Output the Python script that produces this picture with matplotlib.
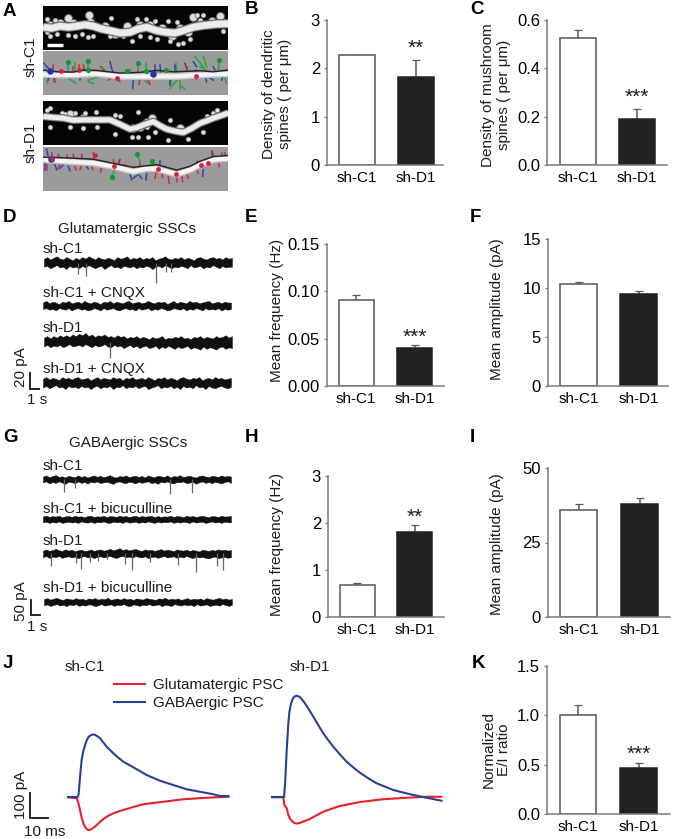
import numpy as np
import matplotlib
matplotlib.use('Agg')
import matplotlib.pyplot as plt

plt.rcParams['font.family'] = ['Liberation Sans', 'DejaVu Sans']
plt.rcParams['text.color'] = '#1c1c1c'

W, H = 673, 839
TXT = 11

# bar values, panel -> (sh-C1, sh-D1)
groups = ['sh-C1', 'sh-D1']
b_vals, b_err = [2.27, 1.83], [0.012, 0.34]
c_vals, c_err = [0.525, 0.19], [0.035, 0.04]
e_vals, e_err = [0.091, 0.04], [0.005, 0.003]
f_vals, f_err = [10.4, 9.4], [0.25, 0.3]
h_vals, h_err = [0.69, 1.8], [0.03, 0.15]
i_vals, i_err = [36, 38], [2, 2]
k_vals, k_err = [1.0, 0.47], [0.1, 0.05]

b_ticks = [0, 1, 2, 3]
c_ticks = [0.0, 0.2, 0.4, 0.6]
e_ticks = [0.00, 0.05, 0.10, 0.15]
f_ticks = [0, 5, 10, 15]
h_ticks = [0, 1, 2, 3]
i_ticks = [0, 25, 50]
k_ticks = [0.0, 0.5, 1.0, 1.5]

# PSC averages (ms, pA)
c1_gaba_t = [0, 6, 6.4, 6.7, 7.4, 8.3, 9.2, 10.2, 11.1, 12, 12.9, 13.9, 14.8, 15.7, 17, 18.5, 20.4, 22.2, 25.9, 28.7, 31.5, 37, 44.4, 51.8, 59.2, 66.6, 74, 81.4, 85.1, 89.8]
c1_gaba_i = [0, 0, 5, 15, 81, 148, 183, 208, 226, 239, 245, 249, 250, 249, 243, 235, 218, 201, 175, 157, 141, 119, 88, 65, 48, 31, 21, 11, 4, 4]
c1_glu_t = [0, 5.6, 6.5, 7.4, 8.3, 9.3, 10, 10.7, 11.4, 12, 13, 13.9, 15.2, 16.7, 18.5, 20.4, 22.9, 25.9, 29.6, 33.3, 37.9, 42.6, 53.7, 64.8, 77.7, 89.8]
c1_glu_i = [-1, -5, -25, -52, -82, -105, -117, -125, -130, -132, -131, -128, -121, -112, -100, -88, -76, -65, -56, -48, -38, -29, -19, -9, -3, 1]
d1_gaba_t = [0, 7.4, 8, 8.9, 9.8, 10.4, 11.1, 11.8, 12.6, 13.5, 14.4, 15.3, 16.3, 17.6, 19, 21.3, 23.7, 26.4, 29.2, 32, 34.8, 38.5, 42.2, 45.9, 49.6, 54.2, 58.8, 68.1, 77.4, 86.6, 94.9]
d1_gaba_i = [0, 0, 55, 188, 295, 340, 368, 385, 397, 403, 405, 403, 399, 388, 375, 349, 321, 288, 255, 227, 201, 170, 141, 118, 97, 75, 55, 28, 11, -3, -15]
d1_glu_t = [0, 7, 7.6, 8.9, 9.8, 10.7, 11.7, 12.5, 13.5, 14.8, 16.3, 18.9, 21.8, 25.5, 29.2, 33.8, 38.5, 49.6, 62.5, 75.5, 86.6, 94.9]
d1_glu_i = [-1, -1, -32, -45, -72, -86, -95, -101, -105, -106, -103, -96, -88, -73, -59, -47, -36, -20, -9, -3, 1, 1]

# SSC recordings: noise envelope (pA) and events (s, pA)
d1_up = [5, 7, 4, 6, 8, 5, 4, 7, 5, 3, 6, 4, 7, 5, 8, 6, 4, 7, 5, 4, 6, 5, 3, 7, 5, 6, 8, 4, 6, 5,
         7, 4, 6, 5, 7, 3, 5, 6, 8, 5, 4, 6, 5, 7, 4, 6, 5, 3, 6, 7, 5, 4, 6, 7, 5, 6, 4, 7, 5, 6]
d1_lo = [-5, -4, -7, -5, -3, -6, -5, -8, -4, -6, -5, -7, -4, -6, -3, -5, -7, -5, -4, -8, -5, -3, -6, -5, -7, -4, -5, -6, -4, -7,
         -5, -6, -4, -5, -8, -5, -4, -6, -3, -5, -7, -5, -6, -4, -5, -7, -3, -6, -5, -4, -7, -5, -6, -3, -5, -7, -4, -6, -5, -5]
d1_ev_t, d1_ev_a = [4.0, 4.9, 13.1, 14.3, 14.8], [14, 16, 25, 12, 11]
d2_up = [4, 6, 3, 5, 4, 2, 5, 4, 6, 3, 4, 5, 3, 6, 4, 3, 5, 4, 2, 5, 4, 6, 3, 5, 4, 3, 5, 6, 3, 4,
         5, 3, 4, 6, 4, 3, 5, 4, 5, 2, 4, 6, 3, 5, 4, 3, 6, 4, 5, 3, 4, 5, 6, 3, 4, 5, 3, 5, 4, 4]
d2_lo = [-4, -3, -5, -4, -6, -3, -4, -5, -3, -6, -4, -3, -5, -4, -6, -5, -3, -4, -6, -3, -5, -4, -3, -5, -6, -4, -3, -5, -4, -6,
         -3, -5, -4, -3, -6, -4, -5, -3, -4, -6, -5, -3, -4, -5, -3, -6, -4, -5, -3, -4, -6, -3, -5, -4, -5, -3, -6, -4, -5, -4]
d3_up = [5, 7, 4, 7, 5, 8, 6, 8, 6, 9, 7, 10, 8, 11, 7, 9, 6, 8, 7, 9, 6, 7, 5, 8, 6, 7, 4, 6, 5, 7,
         4, 6, 5, 3, 6, 4, 5, 7, 3, 5, 4, 6, 5, 7, 4, 5, 3, 6, 5, 7, 4, 6, 5, 4, 7, 5, 6, 8, 5, 7]
d3_lo = [-6, -4, -7, -5, -6, -4, -7, -5, -3, -6, -5, -4, -6, -3, -5, -7, -4, -6, -5, -3, -6, -7, -4, -6, -5, -8, -6, -4, -7, -5,
         -8, -6, -5, -8, -7, -5, -9, -6, -8, -5, -7, -9, -6, -8, -7, -5, -9, -7, -8, -10, -6, -9, -7, -8, -10, -7, -6, -9, -7, -8]
d3_ev_t, d3_ev_a = [7.7], [21]
d4_up = [5, 7, 4, 6, 5, 3, 7, 5, 6, 4, 6, 7, 4, 5, 6, 3, 5, 7, 4, 6, 5, 4, 7, 5, 6, 3, 6, 5, 7, 4,
         5, 6, 4, 7, 5, 3, 6, 5, 7, 4, 6, 5, 3, 6, 7, 5, 4, 6, 5, 7, 3, 5, 6, 4, 7, 5, 6, 4, 5, 6]
d4_lo = [-6, -4, -7, -5, -3, -6, -5, -8, -4, -6, -5, -7, -4, -6, -5, -8, -5, -4, -7, -5, -6, -4, -8, -5, -6, -3, -7, -5, -6, -4,
         -7, -5, -4, -8, -6, -5, -3, -7, -5, -6, -4, -7, -5, -8, -4, -6, -5, -7, -3, -6, -5, -8, -4, -6, -7, -5, -4, -6, -7, -5]

g1_up = [9, 13, 7, 11, 14, 8, 10, 6, 12, 9, 7, 13, 8, 11, 6, 10, 13, 8, 12, 7, 10, 14, 8, 6, 11, 9, 13, 7, 10, 12,
         8, 11, 6, 13, 9, 7, 12, 10, 8, 13, 6, 11, 9, 14, 7, 10, 12, 8, 6, 11, 13, 9, 7, 12, 10, 8, 13, 9, 11, 9]
g1_lo = [-10, -7, -14, -9, -12, -7, -11, -15, -8, -10, -13, -7, -12, -9, -14, -8, -11, -7, -13, -10, -8, -12, -15, -9, -7, -11, -13, -8, -10, -14,
         -8, -12, -9, -7, -13, -10, -15, -8, -11, -7, -12, -14, -9, -10, -7, -13, -11, -8, -15, -10, -7, -12, -9, -13, -8, -11, -14, -9, -7, -12]
g1_ev_t, g1_ev_a = [2.5, 3.7, 14.9, 17.4], [43, 30, 50, 47]
g2_up = [10, 12, 8, 11, 9, 12, 7, 10, 11, 8, 12, 9, 10, 7, 11, 12, 8, 10, 9, 12, 7, 11, 10, 8, 12, 9, 11, 7, 10, 12,
         8, 11, 9, 10, 12, 7, 11, 8, 10, 9, 12, 8, 11, 10, 7, 12, 9, 11, 8, 10, 12, 9, 7, 11, 10, 8, 12, 9, 10, 11]
g2_lo = [-10, -8, -12, -9, -11, -7, -12, -10, -8, -11, -9, -12, -7, -10, -11, -8, -12, -9, -10, -7, -11, -12, -8, -10, -9, -12, -7, -11, -10, -8,
         -12, -9, -11, -7, -10, -12, -8, -11, -9, -10, -7, -12, -9, -11, -8, -10, -12, -7, -11, -9, -8, -12, -10, -7, -11, -9, -12, -8, -10, -10]
g3_up = [9, 13, 8, 11, 15, 10, 8, 13, 9, 12, 7, 10, 12, 8, 9, 13, 8, 11, 13, 9, 11, 15, 10, 13, 17, 11, 14, 10, 12, 15,
         10, 8, 13, 10, 12, 8, 11, 14, 9, 12, 10, 7, 13, 10, 9, 12, 8, 11, 9, 6, 12, 10, 8, 11, 9, 13, 10, 12, 9, 11]
g3_lo = [-13, -9, -16, -11, -13, -9, -15, -12, -10, -14, -11, -17, -12, -9, -14, -11, -16, -12, -10, -14, -11, -9, -13, -16, -11, -9, -13, -11, -15, -9,
         -12, -14, -10, -16, -13, -11, -15, -12, -9, -14, -12, -10, -15, -11, -14, -9, -13, -16, -11, -14, -12, -15, -17, -13, -11, -16, -14, -12, -15, -13]
g3_ev_t = [0.9, 3.9, 4.4, 5.5, 6.4, 7.5, 9.6, 10.4, 12.5, 15.8, 17.9, 20.4, 21.0]
g3_ev_a = [43, 33, 53, 30, 27, 20, 37, 57, 30, 40, 63, 43, 57]
g4_up = [10, 13, 8, 11, 14, 9, 7, 12, 10, 8, 13, 9, 11, 7, 12, 10, 13, 8, 11, 9, 14, 7, 10, 12, 8, 13, 9, 11, 7, 12,
         10, 8, 13, 11, 9, 7, 12, 10, 14, 8, 11, 9, 12, 7, 10, 13, 8, 11, 9, 12, 7, 13, 10, 8, 11, 14, 9, 12, 8, 10]
g4_lo = [-11, -8, -13, -10, -7, -12, -9, -14, -8, -11, -7, -13, -10, -12, -8, -9, -14, -11, -7, -12, -10, -8, -13, -9, -11, -7, -12, -14, -8, -10,
         -13, -9, -11, -7, -12, -10, -8, -14, -9, -11, -13, -7, -10, -12, -8, -11, -9, -14, -7, -12, -10, -8, -13, -11, -9, -12, -7, -10, -13, -9]

# dendrite images, in pixels of the panel crop
img1_shaft = [(10, 75), (35, 78), (60, 72), (85, 75), (110, 72), (135, 68), (160, 72), (185, 80), (210, 85), (240, 92), (270, 90),
              (295, 80), (320, 75), (350, 85), (380, 90), (405, 92), (430, 85), (460, 75), (490, 70), (530, 66), (565, 65)]
img1_big = [(85, 47), (148, 40), (260, 72), (460, 45), (540, 42), (30, 68), (60, 62), (100, 64), (150, 60), (195, 72), (225, 96),
            (300, 68), (330, 70), (365, 78), (395, 100), (420, 76), (445, 90), (480, 62), (515, 58)]
img1_small = [(212, 48), (292, 50), (318, 52), (345, 58), (385, 58), (410, 60), (470, 40), (480, 55), (30, 100), (85, 97), (105, 100),
              (125, 95), (145, 105), (20, 52), (45, 55), (165, 65), (300, 100), (330, 105), (390, 115), (415, 125), (430, 120),
              (275, 115), (550, 85), (450, 110), (250, 100), (20, 90), (50, 95), (160, 102), (210, 100), (350, 110), (490, 40), (555, 58)]
img3_shaft = [(10, 55), (40, 58), (70, 60), (100, 66), (130, 65), (170, 65), (210, 65), (240, 78), (270, 92), (290, 88), (310, 80), (340, 70), (360, 82),
              (380, 92), (405, 98), (430, 102), (455, 90), (480, 75), (500, 68), (520, 60), (545, 52), (565, 45)]
img3_big = [(90, 48), (300, 85), (320, 72), (335, 60), (280, 90), (420, 90), (130, 60)]
img3_small = [(20, 35), (30, 30), (65, 45), (135, 45), (168, 42), (225, 50), (240, 55), (295, 42), (310, 75),
              (320, 85), (390, 65), (500, 55), (520, 45), (530, 35), (90, 85), (130, 88), (170, 85), (30, 85), (225, 105),
              (275, 115), (295, 115), (325, 115), (385, 125), (445, 120), (490, 100), (345, 100), (105, 45), (75, 48)]

img2_white = [(10, 218), (80, 220), (170, 216), (250, 224), (330, 224), (410, 224), (470, 220), (565, 216)]
img2_dark = [(10, 205), (50, 210), (100, 211), (130, 205), (170, 206), (240, 214), (300, 212), (350, 206), (400, 210), (480, 207), (520, 210), (565, 205)]
img2_green = [(85, 210, 85, 180), (145, 210, 145, 175), (105, 205, 105, 185), (295, 210, 295, 185), (318, 210, 318, 185),
              (410, 205, 408, 185), (420, 225, 390, 260), (420, 225, 420, 262), (420, 250, 435, 262), (490, 195, 465, 165),
              (535, 210, 538, 175), (20, 225, 20, 245), (85, 230, 108, 245), (145, 235, 175, 225), (310, 232, 325, 245),
              (555, 230, 560, 245), (480, 195, 498, 205), (380, 215, 378, 203), (160, 245, 145, 240), (425, 225, 445, 230),
              (500, 195, 490, 165), (395, 225, 390, 250), (180, 195, 195, 205)]
img2_blue = [(12, 185, 30, 205), (210, 180, 218, 210), (345, 190, 345, 215), (360, 190, 362, 210), (280, 230, 278, 260),
             (390, 225, 390, 250), (435, 185, 440, 200), (460, 180, 470, 195), (505, 225, 520, 235), (120, 225, 120, 235),
             (40, 225, 45, 240), (405, 190, 405, 205), (520, 195, 525, 205), (495, 222, 500, 240), (30, 220, 25, 235), (550, 220, 545, 235)]
img2_red = [(40, 190, 38, 210), (118, 190, 118, 210), (225, 225, 240, 240), (185, 195, 190, 205), (220, 225, 205, 235),
            (468, 205, 468, 232), (300, 225, 297, 248), (325, 235, 330, 248), (45, 230, 42, 240), (62, 205, 62, 215),
            (100, 195, 100, 208), (130, 190, 133, 205), (270, 205, 268, 215), (440, 195, 440, 208)]
img2_green_heads = [(85, 180), (145, 178), (295, 185), (262, 209), (378, 204), (538, 176), (145, 205), (318, 207)]
img2_blue_heads = [(30, 208), (340, 217)]
img2_red_heads = [(62, 208), (118, 206), (230, 230), (468, 222)]

img4_white = [(10, 185), (80, 190), (160, 195), (220, 205), (280, 220), (320, 212), (350, 212), (410, 228), (450, 215), (480, 200), (520, 185), (565, 182)]
img4_dark = [(10, 178), (80, 180), (160, 184), (220, 196), (280, 208), (320, 203), (350, 200), (410, 216), (450, 205), (480, 190), (520, 176), (565, 173)]
img4_red = [(55, 170, 58, 185), (80, 172, 80, 185), (125, 170, 128, 190), (160, 165, 162, 185), (185, 205, 182, 222), (125, 200, 120, 215),
            (155, 200, 158, 215), (60, 195, 55, 212), (220, 185, 222, 200), (255, 200, 258, 215), (350, 215, 345, 240),
            (385, 235, 388, 255), (410, 235, 412, 250), (440, 225, 445, 240), (520, 165, 520, 178), (545, 165, 545, 178), (408, 215, 408, 232),
            (35, 165, 38, 180), (100, 170, 102, 188), (105, 205, 108, 215), (235, 190, 238, 205), (300, 195, 298, 210), (365, 220, 368, 238),
            (425, 230, 428, 250), (470, 215, 475, 225), (535, 190, 538, 205), (555, 165, 556, 178), (20, 200, 20, 215)]
img4_blue = [(20, 155, 25, 178), (15, 195, 15, 215), (60, 210, 70, 200), (85, 205, 90, 218), (240, 185, 235, 200), (270, 228, 275, 245),
             (295, 228, 305, 240), (320, 225, 318, 245), (360, 190, 360, 205), (490, 215, 488, 235), (472, 190, 478, 200), (515, 160, 515, 175),
             (45, 200, 50, 215), (140, 205, 145, 212), (375, 205, 378, 215), (280, 240, 290, 232)]
img4_green = [(290, 170, 300, 190), (335, 190, 342, 205), (217, 237, 225, 210)]
img4_green_heads = [(290, 170), (335, 188), (217, 237)]
img4_red_heads = [(37, 182), (165, 172), (222, 205), (355, 212), (408, 226), (483, 200), (503, 195)]
img4_blue_heads = [(32, 184)]

fig = plt.figure(figsize=(W / 100, H / 100), dpi=100)
fig.patch.set_facecolor('white')


def px_axes(left, top, right, bottom):
    return fig.add_axes([left / W, 1 - bottom / H, (right - left) / W, (bottom - top) / H])


def put(x, y, s, **kw):
    kw.setdefault('ha', 'left')
    kw.setdefault('va', 'center')
    kw.setdefault('fontsize', TXT)
    return fig.text(x / W, 1 - y / H, s, **kw)


def bar_panel(vals, errs, ticks, fmt, left, top, bottom, right, c0, c1, width, stars=None, star_y=None):
    ax = px_axes(left, top, right, bottom)
    step = c1 - c0
    ax.set_xlim((left - c0) / step, (right - c0) / step)
    ax.set_ylim(0, ticks[-1])
    ax.errorbar([0, 1], vals, yerr=[[0, 0], errs], fmt='none', ecolor='#5a5a5a', elinewidth=1.1,
                capsize=2.6, capthick=0.9, zorder=1)
    ax.bar([0, 1], vals, width=width / step, color=['white', '#222222'],
           edgecolor=['#555555', '#222222'], linewidth=1.1, zorder=2)
    for s in ['top', 'right']:
        ax.spines[s].set_visible(False)
    for s in ['left', 'bottom']:
        ax.spines[s].set_color('#7a7a7a')
        ax.spines[s].set_linewidth(1.1)
    ax.set_yticks(ticks)
    ax.set_yticklabels([fmt % t for t in ticks], fontsize=12)
    ax.set_xticks([0, 1])
    ax.set_xticklabels(groups, fontsize=TXT)
    ax.tick_params(axis='y', length=2.5, width=0.9, color='#7a7a7a', pad=2.5)
    ax.tick_params(axis='x', length=0, pad=4.5)
    if stars:
        ax.annotate(stars, (1, star_y), xytext=(0, -12.5), textcoords='offset pixels', ha='center',
                    va='baseline', fontsize=15)
    return ax


bar_panel(b_vals, b_err, b_ticks, '%d', 327, 20, 165, 443, 357, 416, 36, '**', 2.55)
bar_panel(c_vals, c_err, c_ticks, '%.1f', 547, 20, 165, 667, 577.5, 637, 36, '***', 0.307)
bar_panel(e_vals, e_err, e_ticks, '%.2f', 327, 244, 386, 444, 356, 414.5, 35, '***', 0.0584)
bar_panel(f_vals, f_err, f_ticks, '%d', 548, 239, 386, 668, 578.5, 638.5, 36.5)
bar_panel(h_vals, h_err, h_ticks, '%d', 328, 476, 617, 444, 357, 414.5, 35, '**', 2.28)
bar_panel(i_vals, i_err, i_ticks, '%d', 548, 468, 617, 670, 578.5, 639.5, 37)
bar_panel(k_vals, k_err, k_ticks, '%.1f', 547, 666, 814, 670, 578, 638.5, 36.5, '***', 0.672)

put(277, 94, 'Density of dendritic\nspines ( per μm)', rotation=90, ha='center', ma='center', linespacing=1.15)
put(496, 95, 'Density of mushroom\nspines ( per μm)', rotation=90, ha='center', ma='center', linespacing=1.15)
put(277, 310, 'Mean frequency (Hz)', rotation=90, ha='center')
put(497, 309, 'Mean amplitude (pA)', rotation=90, ha='center')
put(277, 544, 'Mean frequency (Hz)', rotation=90, ha='center')
put(497, 544, 'Mean amplitude (pA)', rotation=90, ha='center')
put(496, 750, 'Normalized\nE/I ratio', rotation=90, ha='center', ma='center', linespacing=1.1)


def image_axes(top, bottom, ylim, color):
    ax = px_axes(43.3, top, 228.3, bottom)
    ax.set_xlim(10, 565)
    ax.set_ylim(*ylim)
    ax.set_facecolor(color)
    ax.set_xticks([])
    ax.set_yticks([])
    for s in ax.spines.values():
        s.set_visible(False)
    return ax


def bright_image(top, bottom, ylim, shaft, big, small, lw, scalebar=False):
    ax = image_axes(top, bottom, ylim, '#050505')
    xs, ys = zip(*shaft)
    ax.plot(xs, ys, color='#5c5c5c', lw=lw + 2.2, solid_capstyle='butt')
    ax.plot(xs, ys, color='#a8a8a8', lw=lw + 1, solid_capstyle='butt')
    ax.plot(xs, ys, color='#ececec', lw=lw, solid_capstyle='butt')
    for pts, size in [(big, 26), (small, 9)]:
        hx, hy = zip(*pts)
        ax.scatter(hx, hy, s=size * 1.7, color='#5c5c5c', linewidths=0)
        ax.scatter(hx, hy, s=size, color='#dddddd', linewidths=0)
    if scalebar:
        ax.plot([20, 68], [128, 128], color='white', lw=2.4, solid_capstyle='butt')


def stalks(ax, segs, color):
    for x0, y0, x1, y1 in segs:
        ax.plot([x0, x1], [y0, y1], color=color, lw=1.1)


def heads(ax, pts, color, size=9):
    hx, hy = zip(*pts)
    ax.scatter(hx, hy, s=size, color=color, zorder=5, linewidths=0)


def model_image(top, bottom, ylim, white, dark, green, blue, red, g_heads, b_heads, r_heads):
    ax = image_axes(top, bottom, ylim, '#9b9b9b')
    stalks(ax, green, '#22a83a')
    stalks(ax, blue, '#2c46a8')
    stalks(ax, red, '#cf2747')
    xs, ys = zip(*white)
    ax.plot(xs, ys, color='#c4c4c4', lw=5)
    ax.plot(xs, ys, color='#f4f4f4', lw=3)
    xs, ys = zip(*dark)
    ax.plot(xs, ys, color='#262626', lw=1.1)
    heads(ax, g_heads, '#13963a', 14)
    heads(ax, b_heads, '#2233b0', 22)
    heads(ax, r_heads, '#d81e3c', 12)


bright_image(5.5, 49.5, (140, 12), img1_shaft, img1_big, img1_small, 4.6, scalebar=True)
model_image(51, 94.5, (278, 148), img2_white, img2_dark, img2_green, img2_blue, img2_red,
            img2_green_heads, img2_blue_heads, img2_red_heads)
bright_image(101, 144.5, (137, 10), img3_shaft, img3_big, img3_small, 3.4)
model_image(147, 190.5, (276, 148), img4_white, img4_dark, img4_green, img4_blue, img4_red,
            img4_green_heads, img4_blue_heads, img4_red_heads)
put(31, 57, 'sh-C1', rotation=90, ha='center')
put(31, 143, 'sh-D1', rotation=90, ha='center')

PX_PER_S = 8.55


def trace(left, center, up, lo, px_per_pa, ev_t=None, ev_a=None):
    half = 30
    ax = px_axes(left, center - half, left + 188, center + half)
    ax.set_xlim(0, 188 / PX_PER_S)
    ax.set_ylim(-half / px_per_pa, half / px_per_pa)
    ax.axis('off')
    ax.patch.set_alpha(0)
    t = np.linspace(0, 188 / PX_PER_S, len(up))
    ax.fill_between(t, lo, up, color='#101010', linewidth=0.3)
    if ev_t:
        ax.vlines(ev_t, [-a for a in ev_a], 0, color='#666666', lw=0.9)
    return ax


def scale_bar(ax, x, y, dx, dy):
    ax.plot([x, x, x + dx], [y + dy, y, y], color='#111111', lw=1.3, clip_on=False, solid_joinstyle='miter')


D_SCALE = 0.8
trace(44, 262.7, d1_up, d1_lo, D_SCALE, d1_ev_t, d1_ev_a)
trace(43, 305.7, d2_up, d2_lo, D_SCALE)
trace(44, 341.7, d3_up, d3_lo, D_SCALE, d3_ev_t, d3_ev_a)
ax_d4 = trace(43, 382.7, d4_up, d4_lo, D_SCALE)
scale_bar(ax_d4, -1.5, -8, 1, 20)

G_SCALE = 0.3
trace(43, 479.3, g1_up, g1_lo, G_SCALE, g1_ev_t, g1_ev_a)
trace(43, 519.3, g2_up, g2_lo, G_SCALE)
trace(43, 553.3, g3_up, g3_lo, G_SCALE, g3_ev_t, g3_ev_a)
ax_g4 = trace(44, 602, g4_up, g4_lo, G_SCALE)
scale_bar(ax_g4, -1.5, -43, 1, 50)

put(127, 229, 'Glutamatergic SSCs', ha='center')
put(43, 249, 'sh-C1')
put(43, 293, 'sh-C1 + CNQX')
put(43, 328, 'sh-D1')
put(43, 369, 'sh-D1 + CNQX')
put(21, 367, '20 pA', rotation=90, ha='center')
put(37, 400, '1 s', ha='center')

put(128, 443, 'GABAergic SSCs', ha='center')
put(43, 466, 'sh-C1')
put(43, 509, 'sh-C1 + bicuculline')
put(43, 541, 'sh-D1')
put(43, 588, 'sh-D1 + bicuculline')
put(21, 601, '50 pA', rotation=90, ha='center')
put(37, 627, '1 s', ha='center')

RED, BLUE = '#e8202a', '#2b3f92'
MS_PX, PA_PX = 1.8, 0.25
BASE = 797


def psc_axes(left):
    ax = px_axes(left, 680, left + 180, 839)
    ax.set_xlim(0, 180 / MS_PX)
    ax.set_ylim((BASE - 839) / PA_PX, (BASE - 680) / PA_PX)
    ax.axis('off')
    ax.patch.set_alpha(0)
    return ax


ax_c = psc_axes(66.7)
ax_d = psc_axes(270.7)
l_glu, = ax_c.plot(c1_glu_t, c1_glu_i, color=RED, lw=1.5, label='Glutamatergic PSC')
l_gaba, = ax_c.plot(c1_gaba_t, c1_gaba_i, color=BLUE, lw=1.5, label='GABAergic PSC')
ax_d.plot(d1_glu_t, d1_glu_i, color=RED, lw=1.5)
ax_d.plot(d1_gaba_t, d1_gaba_i, color=BLUE, lw=1.5)
scale_bar(ax_c, -20.4, -84, 10, 100)
fig.legend(handles=[l_glu, l_gaba], loc='upper left', bbox_to_anchor=(114 / W, 1 - 678 / H), frameon=False,
           fontsize=TXT, handlelength=2.05, handletextpad=0.52, labelspacing=0.28, borderpad=0, borderaxespad=0)

put(85, 667, 'sh-C1', ha='center')
put(310, 667, 'sh-D1', ha='center')
put(21, 795, '100 pA', rotation=90, ha='center')
put(45, 832, '10 ms', ha='center')

for label, x, y in [('A', 3, 12), ('B', 245, 10), ('C', 470, 10), ('D', 3, 218), ('E', 245, 218), ('F', 470, 218),
                    ('G', 3, 437), ('H', 245, 437), ('I', 470, 437), ('J', 3, 664), ('K', 472, 664)]:
    put(x, y, label, fontweight='bold', fontsize=13.5, color='black')

plt.savefig('out.png', dpi=100)
plt.close()
